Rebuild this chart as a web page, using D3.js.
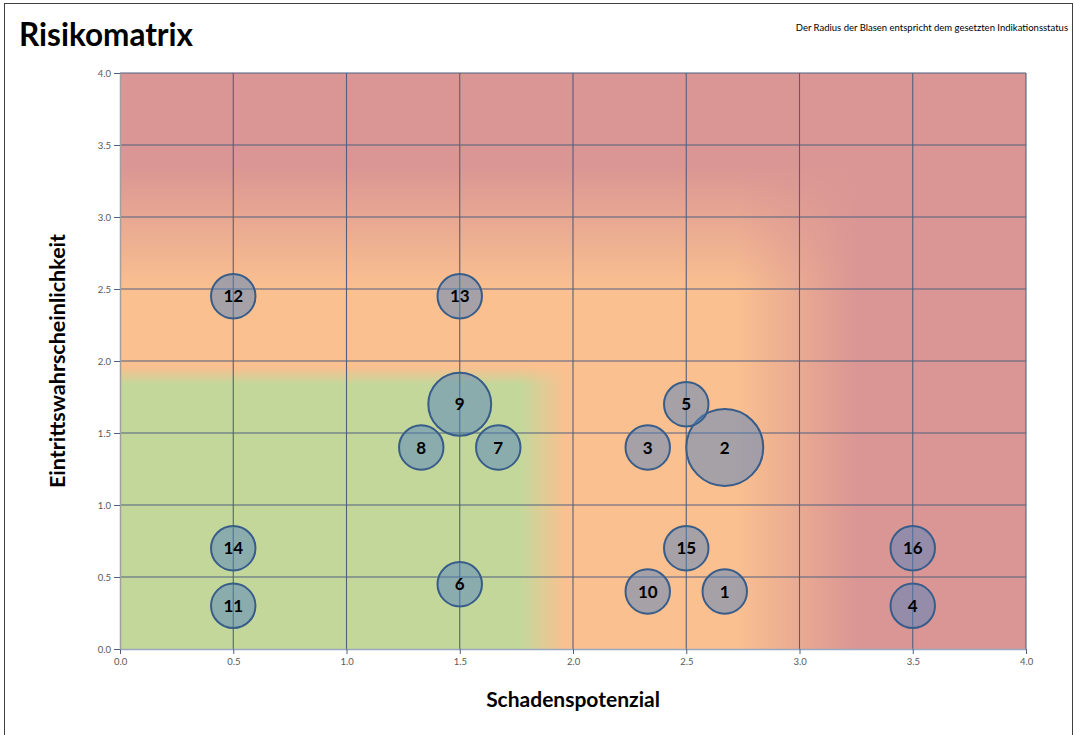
<!DOCTYPE html>
<html>
<head>
<meta charset="utf-8">
<script src="https://cdn.jsdelivr.net/npm/d3@7"></script>
<style>
  body { margin: 0; background: #fff; }
  svg { display: block; }
</style>
</head>
<body>
<div id="chart"></div>
<script>
// bubble data
const ids   = [1, 2, 3, 4, 5, 6, 7, 8, 9, 10, 11, 12, 13, 14, 15, 16];
const xVals = [2.67, 2.67, 2.33, 3.5, 2.5, 1.5, 1.67, 1.33, 1.5, 2.33, 0.5, 0.5, 1.5, 0.5, 2.5, 3.5];
const yVals = [0.4, 1.4, 1.4, 0.3, 1.7, 0.45, 1.4, 1.4, 1.7, 0.4, 0.3, 2.45, 2.45, 0.7, 0.7, 0.7];
const sizes = [1, 3, 1, 1, 1, 1, 1, 1, 2, 1, 1, 1, 1, 1, 1, 1];
const ticks = [0, 0.5, 1, 1.5, 2, 2.5, 3, 3.5, 4];

const data = ids.map((id, i) => ({ id: id, x: xVals[i], y: yVals[i], s: sizes[i] }));

const width = 1074, height = 735;
const margin = { left: 120, top: 73, right: 48, bottom: 86 };
const font = 'Lato, "Open Sans", sans-serif';

const svg = d3.select('#chart').append('svg')
    .attr('width', width)
    .attr('height', height);

const x = d3.scaleLinear().domain([0, 4]).range([margin.left, width - margin.right]);
const y = d3.scaleLinear().domain([0, 4]).range([height - margin.bottom, margin.top]);
const r = d3.scaleSqrt().domain([0, 3]).range([0, 38.5]);

const green = '#c4d79b', orange = '#fac090', red = '#da9694';

const defs = svg.append('defs');

// red top band fades downwards
var gTop = defs.append('linearGradient').attr('id', 'gTop')
    .attr('gradientUnits', 'userSpaceOnUse')
    .attr('x1', 0).attr('x2', 0).attr('y1', y(2.5)).attr('y2', y(3.35));
gTop.append('stop').attr('offset', 0).attr('stop-color', red).attr('stop-opacity', 0);
gTop.append('stop').attr('offset', 1).attr('stop-color', red).attr('stop-opacity', 1);

// red right band fades to the left
var gRight = defs.append('linearGradient').attr('id', 'gRight')
    .attr('gradientUnits', 'userSpaceOnUse')
    .attr('y1', 0).attr('y2', 0).attr('x1', x(2.72)).attr('x2', x(3.25));
gRight.append('stop').attr('offset', 0).attr('stop-color', red).attr('stop-opacity', 0);
gRight.append('stop').attr('offset', 1).attr('stop-color', red).attr('stop-opacity', 1);

// green corner, horizontal fade plus vertical mask
var gGreen = defs.append('linearGradient').attr('id', 'gGreen')
    .attr('gradientUnits', 'userSpaceOnUse')
    .attr('y1', 0).attr('y2', 0).attr('x1', x(1.77)).attr('x2', x(1.97));
gGreen.append('stop').attr('offset', 0).attr('stop-color', green).attr('stop-opacity', 1);
gGreen.append('stop').attr('offset', 1).attr('stop-color', green).attr('stop-opacity', 0);

var gMask = defs.append('linearGradient').attr('id', 'gMask')
    .attr('gradientUnits', 'userSpaceOnUse')
    .attr('x1', 0).attr('x2', 0).attr('y1', y(1.84)).attr('y2', y(1.96));
gMask.append('stop').attr('offset', 0).attr('stop-color', '#fff');
gMask.append('stop').attr('offset', 1).attr('stop-color', '#000');

defs.append('mask').attr('id', 'greenMask')
  .append('rect')
    .attr('x', x(0)).attr('y', y(4))
    .attr('width', x(4) - x(0)).attr('height', y(0) - y(4))
    .attr('fill', 'url(#gMask)');

// outer frame
svg.append('rect')
    .attr('x', 4.5).attr('y', 3.5)
    .attr('width', width - 6).attr('height', height + 10)
    .attr('fill', 'none')
    .attr('stroke', '#404040')
    .attr('stroke-width', 1);

// background zones
const bg = svg.append('g');
const pw = x(4) - x(0), ph = y(0) - y(4);
bg.append('rect').attr('x', x(0)).attr('y', y(4)).attr('width', pw).attr('height', ph).attr('fill', orange);
bg.append('rect').attr('x', x(0)).attr('y', y(4)).attr('width', pw).attr('height', ph).attr('fill', 'url(#gTop)');
bg.append('rect').attr('x', x(0)).attr('y', y(4)).attr('width', pw).attr('height', ph).attr('fill', 'url(#gRight)');
bg.append('rect').attr('x', x(0)).attr('y', y(4)).attr('width', pw).attr('height', ph)
    .attr('fill', 'url(#gGreen)')
    .attr('mask', 'url(#greenMask)');

// gridlines
const gridColor = '#4e6180';
svg.append('g').selectAll('line.v')
    .data(ticks.slice(1))
    .enter().append('line')
    .attr('x1', d => x(d)).attr('x2', d => x(d))
    .attr('y1', y(0)).attr('y2', y(4))
    .attr('stroke', gridColor).attr('stroke-width', 1.1);

svg.append('g').selectAll('line.h')
    .data(ticks.slice(1))
    .enter().append('line')
    .attr('x1', x(0)).attr('x2', x(4))
    .attr('y1', d => y(d)).attr('y2', d => y(d))
    .attr('stroke', gridColor).attr('stroke-width', 1.1);

// axes
const xAxis = svg.append('g')
    .attr('transform', 'translate(0,' + y(0) + ')')
    .call(d3.axisBottom(x).tickValues(ticks).tickFormat(d3.format('.1f')).tickSizeInner(5).tickSizeOuter(0).tickPadding(4));
const yAxis = svg.append('g')
    .attr('transform', 'translate(' + x(0) + ',0)')
    .call(d3.axisLeft(y).tickValues(ticks).tickFormat(d3.format('.1f')).tickSizeInner(6).tickSizeOuter(0).tickPadding(3));

[xAxis, yAxis].forEach(function(a) {
  a.selectAll('text')
    .style('font-family', font)
    .style('font-size', '9.5px')
    .attr('fill', '#595959');
  a.selectAll('line').attr('stroke', gridColor);
});
xAxis.select('.domain').attr('stroke', '#9aa8bf').attr('stroke-width', 1.5);
yAxis.select('.domain').attr('stroke', '#a0a0a0').attr('stroke-width', 1.5);

// bubbles
const bubbles = svg.append('g').selectAll('g')
    .data(data)
    .enter().append('g')
    .attr('transform', d => 'translate(' + x(d.x) + ',' + y(d.y) + ')');

bubbles.append('circle')
    .attr('r', d => r(d.s))
    .attr('fill', '#4f81bd')
    .attr('fill-opacity', 0.5)
    .attr('stroke', '#385d8a')
    .attr('stroke-width', 2);

bubbles.append('text')
    .text(d => d.id)
    .attr('text-anchor', 'middle')
    .attr('dy', '0.36em')
    .style('font-family', font)
    .style('font-weight', 'bold')
    .style('font-size', '17px')
    .attr('fill', '#000');

// titles
svg.append('text')
    .attr('x', 19).attr('y', 46)
    .text('Risikomatrix')
    .style('font-family', font)
    .style('font-weight', 'bold')
    .style('font-size', '31.5px');

svg.append('text')
    .attr('x', 1068).attr('y', 31)
    .attr('text-anchor', 'end')
    .text('Der Radius der Blasen entspricht dem gesetzten Indikationsstatus')
    .style('font-family', font)
    .style('font-size', '9.5px');

svg.append('text')
    .attr('x', x(2)).attr('y', 707)
    .attr('text-anchor', 'middle')
    .text('Schadenspotenzial')
    .style('font-family', font)
    .style('font-weight', 'bold')
    .style('font-size', '21px');

svg.append('text')
    .attr('transform', 'translate(65,' + y(2) + ') rotate(-90)')
    .attr('text-anchor', 'middle')
    .text('Eintrittswahrscheinlichkeit')
    .style('font-family', font)
    .style('font-weight', 'bold')
    .style('font-size', '21.5px');
</script>
</body>
</html>
